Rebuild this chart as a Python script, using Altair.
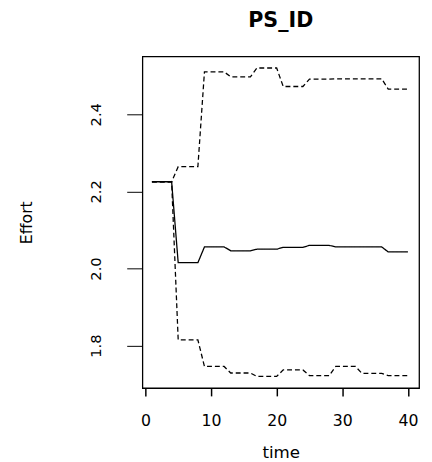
import altair as alt
import pandas as pd

time = list(range(1, 41))
mean_effort = [2.225, 2.225, 2.225, 2.225,
               2.015, 2.015, 2.015, 2.015,
               2.056, 2.056, 2.056, 2.056,
               2.046, 2.046, 2.046, 2.046,
               2.050, 2.050, 2.050, 2.050,
               2.055, 2.055, 2.055, 2.055,
               2.060, 2.060, 2.060, 2.060,
               2.056, 2.056, 2.056, 2.056,
               2.056, 2.056, 2.056, 2.056,
               2.043, 2.043, 2.043, 2.043]
upper_effort = [2.225, 2.225, 2.225, 2.225,
                2.264, 2.264, 2.264, 2.264,
                2.510, 2.510, 2.510, 2.510,
                2.497, 2.497, 2.497, 2.497,
                2.520, 2.520, 2.520, 2.520,
                2.472, 2.472, 2.472, 2.472,
                2.491, 2.491, 2.491, 2.491,
                2.492, 2.492, 2.492, 2.492,
                2.492, 2.492, 2.492, 2.492,
                2.465, 2.465, 2.465, 2.465]
lower_effort = [2.225, 2.225, 2.225, 2.225,
                1.815, 1.815, 1.815, 1.815,
                1.746, 1.746, 1.746, 1.746,
                1.729, 1.729, 1.729, 1.729,
                1.720, 1.720, 1.720, 1.720,
                1.737, 1.737, 1.737, 1.737,
                1.722, 1.722, 1.722, 1.722,
                1.746, 1.746, 1.746, 1.746,
                1.728, 1.728, 1.728, 1.728,
                1.722, 1.722, 1.722, 1.722]
x_ticks = [0, 10, 20, 30, 40]
y_ticks = [1.8, 2.0, 2.2, 2.4]

rows = []
for name, kind, vals in [("mean", "solid", mean_effort),
                         ("upper", "dashed", upper_effort),
                         ("lower", "dashed", lower_effort)]:
    for t, v in zip(time, vals):
        rows.append({"time": t, "Effort": v, "series": name, "kind": kind})
df = pd.DataFrame(rows)

font = "DejaVu Sans"

chart = alt.Chart(df).mark_line(color="black", strokeWidth=1.3, clip=True).encode(
    x=alt.X("time:Q",
            scale=alt.Scale(domain=[-0.45, 41.7], nice=False, zero=False),
            axis=alt.Axis(values=x_ticks, title="time", grid=False, domain=False,
                          tickSize=8, tickColor="black", tickWidth=1.5,
                          labelFont=font, labelFontSize=16, labelColor="black",
                          labelPadding=17, labelFlush=False,
                          titleFont=font, titleFontSize=17, titleFontWeight="normal",
                          titleColor="black", titleY=66, titleBaseline="middle")),
    y=alt.Y("Effort:Q",
            scale=alt.Scale(domain=[1.690, 2.550], nice=False, zero=False),
            axis=alt.Axis(values=y_ticks, format=".1f", title="Effort", grid=False, domain=False,
                          tickSize=16, tickColor="black", tickWidth=1,
                          labelFont=font, labelFontSize=15, labelColor="black",
                          labelAngle=-90, labelAlign="center", labelBaseline="bottom",
                          labelPadding=24, labelFlush=False,
                          titleFont=font, titleFontSize=16, titleFontWeight="normal",
                          titleColor="black", titleAngle=-90, titleX=-118, titleY=169,
                          titleAlign="center", titleBaseline="middle")),
    strokeDash=alt.StrokeDash("kind:N",
                              scale=alt.Scale(domain=["solid", "dashed"], range=[[1, 0], [5, 3]]),
                              legend=None),
    detail="series:N",
).properties(
    width=282,
    height=338,
    title=alt.TitleParams("PS_ID", font=font, fontSize=21, fontWeight="bold",
                          color="black", anchor="middle", offset=26),
    autosize=alt.AutoSizeParams(type="none"),
    padding={"left": 137, "top": 45, "right": 5, "bottom": 70},
).configure_view(stroke="black", strokeWidth=1.3)

chart.save("out.html", embed_options={"renderer": "svg", "actions": False})
